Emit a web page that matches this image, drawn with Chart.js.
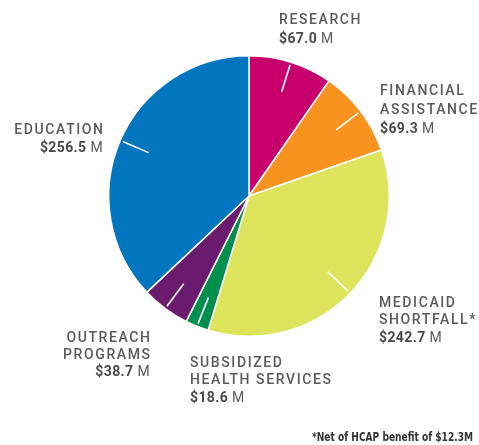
<!DOCTYPE html>
<html>
<head>
<meta charset="utf-8">
<script src="https://cdn.jsdelivr.net/npm/chart.js@4"></script>
<style>
  body { margin: 0; background: #fff; }
  #wrap { position: relative; width: 479px; height: 445px; }
</style>
</head>
<body>
<div id="wrap"><canvas id="pieChart" width="479" height="445"></canvas></div>
<script>
// Community benefit by category ($ millions), clockwise from 12 o'clock
const categories = ["RESEARCH", "FINANCIAL ASSISTANCE", "MEDICAID SHORTFALL*", "SUBSIDIZED HEALTH SERVICES", "OUTREACH PROGRAMS", "EDUCATION"];
const amounts = [67.0, 69.3, 242.7, 18.6, 38.7, 256.5];
const sliceColors = ["#c7006d", "#f7931e", "#dde35b", "#008f4c", "#6a1b6e", "#0275bf"];
const footnote = "*Net of HCAP benefit of $12.3M";

// label layout: wrapped lines, anchor x, first line y, alignment
const labelLayout = [
  { lines: ["RESEARCH"], x: 279, y: 20, align: "left", gap: 19 },
  { lines: ["FINANCIAL", "ASSISTANCE"], x: 380, y: 91, align: "left", gap: 19 },
  { lines: ["MEDICAID", "SHORTFALL*"], x: 379, y: 303, align: "left", gap: 17.5 },
  { lines: ["SUBSIDIZED", "HEALTH SERVICES"], x: 190, y: 363, align: "left", gap: 17.5 },
  { lines: ["OUTREACH", "PROGRAMS"], x: 150, y: 338, align: "right", gap: 17 },
  { lines: ["EDUCATION"], x: 103, y: 130, align: "right", gap: 18.5 }
];

const textColor = "#5a5a5a";

// white tick lines inside each slice + text labels
const labelPlugin = {
  id: "sliceLabels",
  afterDatasetsDraw(chart) {
    const ctx = chart.ctx;
    const arcs = chart.getDatasetMeta(0).data;
    ctx.save();
    ctx.strokeStyle = "#ffffff";
    ctx.lineWidth = 1.6;
    arcs.forEach(arc => {
      const mid = (arc.startAngle + arc.endAngle) / 2;
      const r0 = arc.outerRadius * 0.78, r1 = arc.outerRadius * 0.98;
      ctx.beginPath();
      ctx.moveTo(arc.x + Math.cos(mid) * r0, arc.y + Math.sin(mid) * r0);
      ctx.lineTo(arc.x + Math.cos(mid) * r1, arc.y + Math.sin(mid) * r1);
      ctx.stroke();
    });

    ctx.textBaseline = "middle";
    labelLayout.forEach((lab, i) => {
      ctx.fillStyle = textColor;
      ctx.letterSpacing = "1.6px";
      ctx.font = "500 14px Roboto";
      ctx.textAlign = "left";
      lab.lines.forEach((line, j) => {
        const w = ctx.measureText(line).width - 1.6;
        const x = lab.align === "left" ? lab.x : lab.x - w;
        ctx.fillText(line, x, lab.y + j * lab.gap);
      });
      // value line: bold amount + regular unit
      const y = lab.y + lab.lines.length * lab.gap;
      const val = "$" + amounts[i].toFixed(1);
      ctx.letterSpacing = "0.4px";
      ctx.font = "bold 14px Roboto";
      const wVal = ctx.measureText(val).width;
      ctx.font = "14px Roboto";
      const wUnit = ctx.measureText(" M").width;
      const x0 = lab.align === "left" ? lab.x : lab.x - wVal - wUnit;
      ctx.font = "bold 14px Roboto";
      ctx.fillStyle = "#4a4a4a";
      ctx.fillText(val, x0, y);
      ctx.font = "14px Roboto";
      ctx.fillStyle = textColor;
      ctx.fillText(" M", x0 + wVal, y);
    });

    ctx.letterSpacing = "0px";
    ctx.textAlign = "right";
    ctx.font = "bold 13px 'DejaVu Sans Condensed', 'DejaVu Sans'";
    ctx.fillStyle = "#333";
    ctx.fillText(footnote, 473, 438, 161);
    ctx.restore();
  }
};

new Chart(document.getElementById("pieChart"), {
  type: "pie",
  data: {
    labels: categories,
    datasets: [{
      data: amounts,
      backgroundColor: sliceColors,
      borderColor: "#ffffff",
      borderWidth: 1.5
    }]
  },
  options: {
    responsive: false,
    animation: false,
    layout: { padding: { left: 108, right: 89, top: 55, bottom: 108 } },
    plugins: {
      legend: { display: false },
      tooltip: { enabled: false }
    }
  },
  plugins: [labelPlugin]
});
</script>
</body>
</html>
